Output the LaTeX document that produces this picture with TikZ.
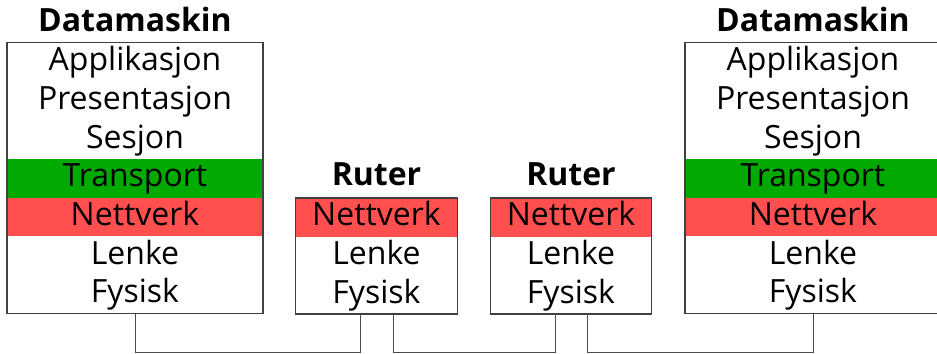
\documentclass[tikz,border=0pt]{standalone}
\usepackage{fontspec}
\setmainfont{Open Sans}
\usetikzlibrary{positioning}
\definecolor{transgreen}{RGB}{0,170,0}
\definecolor{netred}{RGB}{255,79,79}
\tikzset{
layer/.style={minimum height=29pt, inner sep=0pt, outer sep=0pt, text height=17.8pt, text depth=5pt, font=\fontsize{24}{28}\selectfont}, % one row of the stack
host/.style={layer, minimum width=192pt}, % rows of a computer
router/.style={layer, minimum width=121pt}, % rows of a router
title/.style={inner sep=0pt, text depth=0pt, font=\fontsize{24}{28}\selectfont\bfseries},
frame/.style={draw=black!75, line width=0.8pt},
wire/.style={draw=black!70, line width=0.75pt},
transport/.style={fill=transgreen},
network/.style={fill=netred},
}

\begin{document}
\begin{tikzpicture}[x=0.75pt, y=-0.75pt]
            \clip (0,0) rectangle (937,353);
            % left computer
            \node[host] (a1) at (135,62.3) {Applikasjon};
            \node[host, below=0pt of a1] (a2) {Presentasjon};
            \node[host, below=0pt of a2] (a3) {Sesjon};
            \node[host, transport, below=0pt of a3] (a4) {Transport};
            \node[host, network, below=0pt of a4] (a5) {Nettverk};
            \node[host, below=0pt of a5] (a6) {Lenke};
            \node[host, below=0pt of a6] (a7) {Fysisk};
            \draw[frame] (a1.north west) rectangle (a7.south east);
            \node[title, above=8.5pt of a1] (ta) {Datamaskin};
            % first router
            \node[router, network] (b1) at (376.5,217.3) {Nettverk};
            \node[router, below=0pt of b1] (b2) {Lenke};
            \node[router, below=0pt of b2] (b3) {Fysisk};
            \draw[frame] (b1.north west) rectangle (b3.south east);
            \node[title, above=9.5pt of b1] (tb) {Ruter};
            % second router
            \node[router, network] (c1) at (571,217.3) {Nettverk};
            \node[router, below=0pt of c1] (c2) {Lenke};
            \node[router, below=0pt of c2] (c3) {Fysisk};
            \draw[frame] (c1.north west) rectangle (c3.south east);
            \node[title, above=9.5pt of c1] (tc) {Ruter};
            % right computer
            \node[host] (d1) at (813,62.3) {Applikasjon};
            \node[host, below=0pt of d1] (d2) {Presentasjon};
            \node[host, below=0pt of d2] (d3) {Sesjon};
            \node[host, transport, below=0pt of d3] (d4) {Transport};
            \node[host, network, below=0pt of d4] (d5) {Nettverk};
            \node[host, below=0pt of d5] (d6) {Lenke};
            \node[host, below=0pt of d6] (d7) {Fysisk};
            \draw[frame] (d1.north west) rectangle (d7.south east);
            \node[title, above=8.5pt of d1] (td) {Datamaskin};
            % cables
            \draw[wire] (a7.south) -- ++(0,38.5) -| ([xshift=-12pt]b3.south);
            \draw[wire] ([xshift=12.5pt]b3.south) -- ++(0,38.5) -| ([xshift=-11.5pt]c3.south);
            \draw[wire] ([xshift=12pt]c3.south) -- ++(0,38.5) -| (d7.south);
        \end{tikzpicture}
\end{document}
